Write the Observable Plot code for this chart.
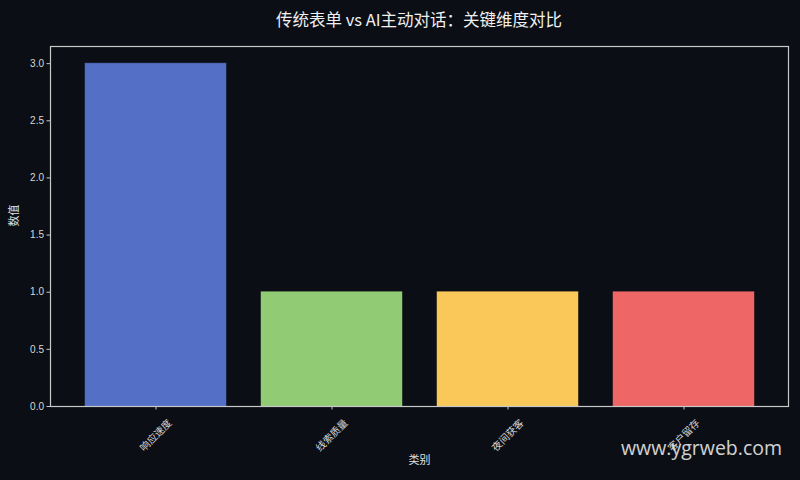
<!DOCTYPE html>
<html>
<head>
<meta charset="utf-8">
<script src="https://cdn.jsdelivr.net/npm/d3@7"></script>
<script src="https://cdn.jsdelivr.net/npm/@observablehq/plot@0.6"></script>
<style>
  html, body { margin: 0; padding: 0; background: #0b0e14; }
  #wrap { position: relative; width: 800px; height: 480px; background: #0b0e14; overflow: hidden; }
  #title { box-sizing: border-box; height: 36px; line-height: 38px; text-align: center; color: #f0f0f0;
           padding-left: 38px; overflow: hidden;
           font-family: "Noto Sans CJK SC", sans-serif; font-size: 16.5px; }
  #wm { position: absolute; left: 621px; top: 434px; color: #e6e6e6; opacity: 0.9;
        font-family: "Open Sans", "Noto Sans", sans-serif; font-size: 19.5px; white-space: nowrap; }
</style>
</head>
<body>
<div id="wrap">
  <div id="title">传统表单 vs AI主动对话：关键维度对比</div>
  <div id="chart"></div>
  <div id="wm">www.ygrweb.com</div>
</div>
<script>
const categories = ["响应速度", "线索质量", "夜间获客", "客户留存"];
const values = [3, 1, 1, 1];
const colors = ["#5470c6", "#91cc75", "#fac858", "#ee6666"];
const yTicks = [0, 0.5, 1.0, 1.5, 2.0, 2.5, 3.0];

const data = categories.map((c, i) => ({category: c, value: values[i], color: colors[i]}));

const chart = Plot.plot({
  width: 800,
  height: 444,
  marginTop: 10,
  marginBottom: 74,
  marginLeft: 50,
  marginRight: 12,
  style: {background: "#0b0e14", color: "#d8d8d8", fontFamily: "'Noto Sans CJK SC', sans-serif", fontSize: "10px"},
  x: {domain: categories, paddingInner: 0.2, paddingOuter: 0.19, label: null},
  y: {domain: [0, 3.15], label: null},
  marks: [
    Plot.barY(data, {x: "category", y: "value", fill: "color", stroke: "color", strokeOpacity: 0.6, strokeWidth: 0.8}),
    Plot.frame({stroke: "#c8c8c8", strokeWidth: 1.2}),
    Plot.axisY({ticks: yTicks, tickFormat: d => d.toFixed(1), tickSize: 3.5, tickPadding: 3, stroke: "#c8c8c8", fill: "#d8d8d8", fontFamily: "'Liberation Sans', Arial, sans-serif", fontSize: 10, label: null}),
    Plot.axisX({tickSize: 3.5, text: null, label: null, stroke: "#c8c8c8"}),
    Plot.text(categories, {x: d => d, frameAnchor: "bottom", dy: 29, rotate: -45, textAnchor: "middle", lineAnchor: "middle", fill: "#d8d8d8", fontSize: 10}),
    Plot.text(["类别"], {frameAnchor: "bottom", dy: 57, fill: "#e0e0e0", fontSize: 11}),
    Plot.text(["数值"], {frameAnchor: "left", dx: -36, rotate: -90, fill: "#e0e0e0", fontSize: 11})
  ]
});
document.getElementById("chart").appendChild(chart);
</script>
</body>
</html>
